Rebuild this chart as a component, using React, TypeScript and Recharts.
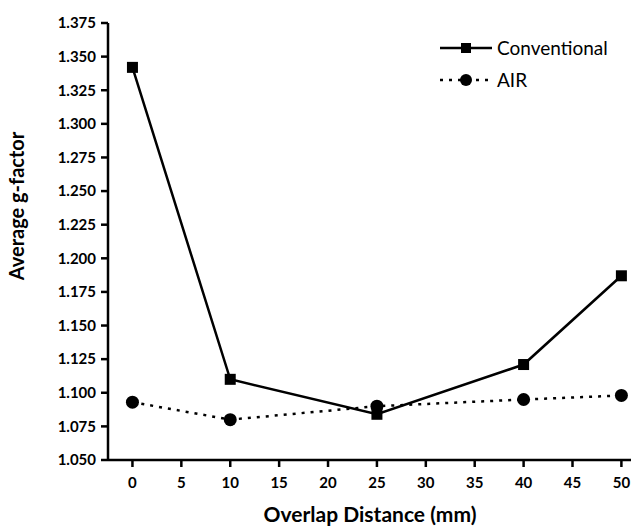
import React from 'react'
import { LineChart, Line, XAxis, YAxis, Label } from 'recharts'

const distances = [0, 10, 25, 40, 50]
const conventional = [1.342, 1.11, 1.084, 1.121, 1.187]
const air = [1.093, 1.08, 1.09, 1.095, 1.098]
const xTicks = [0, 5, 10, 15, 20, 25, 30, 35, 40, 45, 50]
const yTicks = [1.05, 1.075, 1.1, 1.125, 1.15, 1.175, 1.2, 1.225, 1.25, 1.275, 1.3, 1.325, 1.35, 1.375]

const data = distances.map((d, i) => ({ d, conventional: conventional[i], air: air[i] }))

const FONT = 'Lato, "Open Sans", sans-serif'

const SquareDot = (props: any) => {
  const { cx, cy, index } = props
  if (cx == null || cy == null) return <g key={`sq-${index}`} />
  return <rect key={`sq-${index}`} x={cx - 5.5} y={cy - 5.5} width={11} height={11} fill="#000" />
}

const CircleDot = (props: any) => {
  const { cx, cy, index } = props
  if (cx == null || cy == null) return <g key={`ci-${index}`} />
  return <circle key={`ci-${index}`} cx={cx} cy={cy} r={6.5} fill="#000" />
}

function ChartLegend() {
  return (
    <svg width={200} height={60} style={{ position: 'absolute', left: 440, top: 38, overflow: 'visible' }}>
      <line x1={0} y1={10} x2={52} y2={10} stroke="#000" strokeWidth={2.5} />
      <rect x={21} y={5} width={10} height={10} fill="#000" />
      <text x={57} y={17} fontSize={19} fontFamily={FONT} fill="#000">Conventional</text>
      <line x1={0} y1={42} x2={52} y2={42} stroke="#000" strokeWidth={2.5} strokeDasharray="3 6" />
      <circle cx={26} cy={42} r={6} fill="#000" />
      <text x={57} y={49} fontSize={19} fontFamily={FONT} fill="#000">AIR</text>
    </svg>
  )
}

export default function App() {
  return (
    <div style={{ position: 'relative', margin: '-8px 0 0 -8px', background: '#fff', width: 639, height: 530 }}>
      <LineChart width={639} height={530} data={data} margin={{ top: 23, right: 0, bottom: 0, left: 0 }}>
        <XAxis
          dataKey="d"
          type="number"
          domain={[-2.5, 51.8]}
          ticks={xTicks}
          allowDataOverflow
          height={70}
          stroke="#000"
          strokeWidth={2.5}
          tickSize={7}
          tick={{ fill: '#000', fontSize: 15, fontWeight: 700, fontFamily: FONT, dy: 8 }}
        >
          <Label
            content={() => (
              <text x={370} y={522} textAnchor="middle" fontSize={21} fontWeight={700} fontFamily={FONT} fill="#000">
                Overlap Distance (mm)
              </text>
            )}
          />
        </XAxis>
        <YAxis
          type="number"
          domain={[1.05, 1.375]}
          ticks={yTicks}
          width={108}
          stroke="#000"
          strokeWidth={2.5}
          tickSize={7}
          tickFormatter={(v: number) => v.toFixed(3)}
          tick={{ fill: '#000', fontSize: 15, fontWeight: 700, fontFamily: FONT, dx: -3 }}
        >
          <Label
            content={() => (
              <text x={24} y={206} transform="rotate(-90 24 206)" textAnchor="middle" fontSize={20} fontWeight={700} fontFamily={FONT} fill="#000">
                Average g-factor
              </text>
            )}
          />
        </YAxis>
        <Line
          dataKey="conventional"
          stroke="#000"
          strokeWidth={2.5}
          dot={SquareDot}
          activeDot={false}
          isAnimationActive={false}
        />
        <Line
          dataKey="air"
          stroke="#000"
          strokeWidth={2.5}
          strokeDasharray="3 6"
          dot={CircleDot}
          activeDot={false}
          isAnimationActive={false}
        />
      </LineChart>
      <ChartLegend />
    </div>
  )
}
